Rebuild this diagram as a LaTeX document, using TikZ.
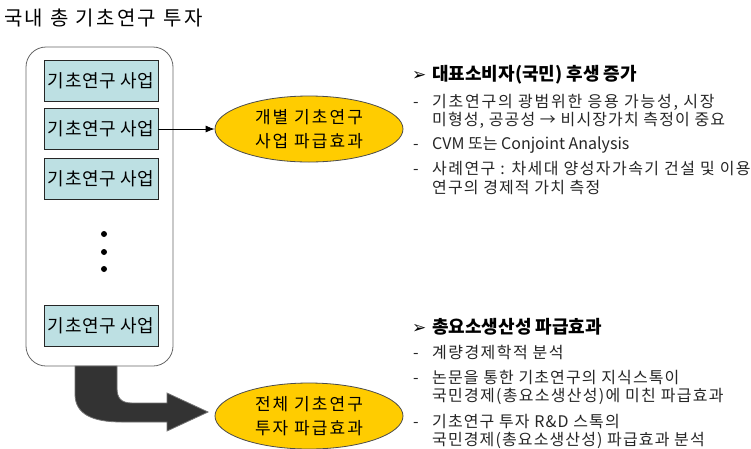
\documentclass[tikz,border=0pt]{standalone}
\usepackage{fontspec}
\setmainfont{Noto Sans CJK KR}
\newfontfamily\symfont{DejaVu Sans}
\usetikzlibrary{shapes.geometric,arrows.meta}
\definecolor{boxfill}{HTML}{BDE0E3}
\definecolor{ellfill}{HTML}{FFCC00}
\definecolor{arrowfill}{HTML}{333333}
\newcommand{\ls}[1]{\addfontfeatures{LetterSpace=#1}}
\begin{document}
\begin{tikzpicture}[x=1pt,y=-1pt,
  container/.style={draw=black!60, line width=0.8pt, rounded corners=20pt},
  biz/.style={draw=black!85, fill=boxfill, line width=0.8pt, minimum width=114pt, minimum height=41pt, inner sep=0pt, font=\fontsize{18}{20}\selectfont\ls{3}},
  effect/.style={ellipse, draw=black!70, fill=ellfill, line width=0.8pt, minimum width=188pt, minimum height=66pt, inner sep=0pt, align=center, font=\fontsize{17}{24}\selectfont\ls{12}},
  txt/.style={anchor=west, inner sep=0pt, font=\fontsize{16}{18}\selectfont\ls{#1}, text=black!85},
  txt/.default=7,
  head/.style={anchor=west, inner sep=0pt, font=\fontsize{18}{20}\selectfont\bfseries},
  dot/.style={circle, fill=black, inner sep=0pt, minimum size=6pt},
  bigarrow/.style={fill=arrowfill, draw=black!55, line width=0.8pt}
]
\useasboundingbox (0,0) rectangle (751,448);
\fill[white] (0,0) rectangle (751,448);

% title
\node[anchor=west, inner sep=0pt, font=\fontsize{20}{22}\selectfont\ls{12}] (title) at (4,18) {국내 총 기초연구 투자};

% container
\draw[container] (26,47) rectangle (173,366);

% project boxes
\node[biz] (b1) at (101,80.5) {기초연구 사업};
\node[biz] (b2) at (101,129) {기초연구 사업};
\node[biz] (b3) at (101,178.5) {기초연구 사업};
\node[biz] (b4) at (101,326) {기초연구 사업};

% dots
\node[dot] (d1) at (104,234) {};
\node[dot] (d2) at (104,252) {};
\node[dot] (d3) at (104,269) {};

% effects
\node[effect] (e1) at (309,129) {개별 기초연구\\사업 파급효과};
\node[effect] (e2) at (309,416) {전체 기초연구\\투자 파급효과};

% thin arrow
\draw[-{Latex[length=9pt,width=7pt]}, line width=0.8pt] (b2.east) -- (e1.west);

% thick arrow
\draw[bigarrow] (75,366) -- (75,394) .. controls (75,414) and (92,422) .. (122,422)
  -- (167,422) -- (167,431) -- (208,412) -- (167,393) -- (167,403) -- (132,403)
  .. controls (121,403) and (117,398) .. (117,388) -- (117,366) -- cycle;

% right text, upper block
\node[head] (h1) at (412,75) {\makebox[20pt][l]{\symfont\fontsize{17}{17}\selectfont ➢}대표소비자(국민) 후생 증가};
\node[txt=11] (t1) at (413,102) {\makebox[19pt][l]{-}기초연구의 광범위한 응용 가능성, 시장};
\node[txt=7] (t2) at (432,120) {미형성, 공공성 → 비시장가치 측정이 중요};
\node[txt=0] (t3) at (413,145) {\makebox[19pt][l]{-}CVM 또는 Conjoint Analysis};
\node[txt=9] (t4) at (413,169) {\makebox[19pt][l]{-}사례연구 : 차세대 양성자가속기 건설 및 이용};
\node[txt=7] (t5) at (432,187) {연구의 경제적 가치 측정};

% right text, lower block
\node[head] (h2) at (412,327) {\makebox[20pt][l]{\symfont\fontsize{17}{17}\selectfont ➢}총요소생산성 파급효과};
\node[txt=9] (s1) at (413,352) {\makebox[19pt][l]{-}계량경제학적 분석};
\node[txt=7] (s2) at (413,378) {\makebox[19pt][l]{-}논문을 통한 기초연구의 지식스톡이};
\node[txt=8] (s3) at (432,396) {국민경제(총요소생산성)에 미친 파급효과};
\node[txt=7] (s4) at (413,422) {\makebox[19pt][l]{-}기초연구 투자 R\&D 스톡의};
\node[txt=7] (s5) at (432,440) {국민경제(총요소생산성) 파급효과 분석};
\end{tikzpicture}
\end{document}
